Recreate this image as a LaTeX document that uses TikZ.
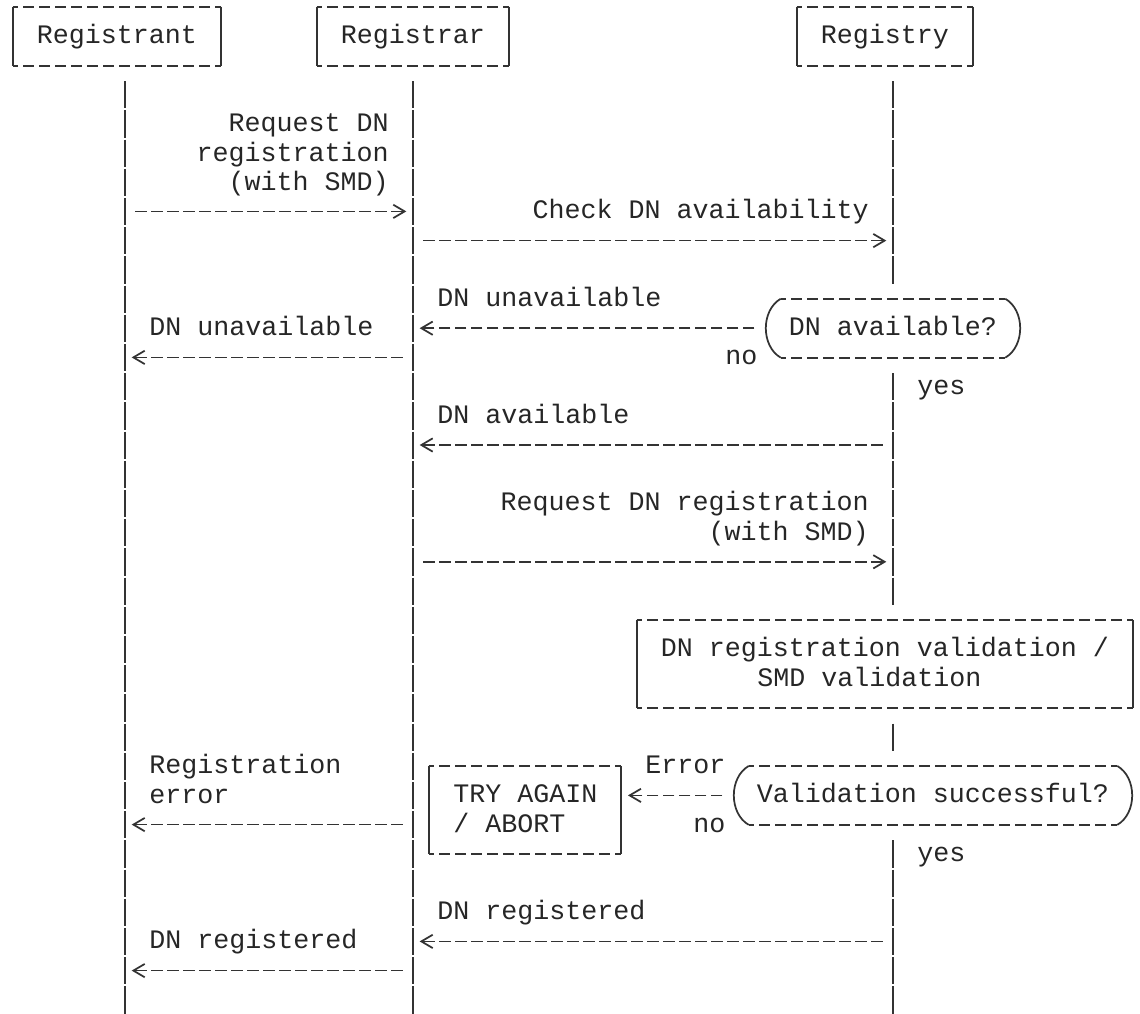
\documentclass[tikz,border=0pt]{standalone}
\usepackage{fontspec}
\newfontfamily\asciifont{Liberation Mono}
\usetikzlibrary{arrows.meta}

\tikzset{
  lbl/.style={font=\asciifont\fontsize{20}{21.9}\selectfont, text=black!85, inner sep=0pt,
              text height=16.55pt, text depth=5.35pt},
  hdash/.style={draw=black!80, line width=1.3pt, dash pattern=on 8.6pt off 3.4pt, dash phase=4.3pt},
  vside/.style={draw=black!80, line width=1.3pt, solid},
  asciibox/.style={lbl, minimum height=43.8pt, append after command={
      (\tikzlastnode.north west) edge[hdash] (\tikzlastnode.north east)
      (\tikzlastnode.south west) edge[hdash] (\tikzlastnode.south east)
      (\tikzlastnode.north west) edge[vside] (\tikzlastnode.south west)
      (\tikzlastnode.north east) edge[vside] (\tikzlastnode.south east)}},
  decision/.style={lbl, minimum height=43.8pt, append after command={
      ([xshift=12pt]\tikzlastnode.north west) edge[hdash] ([xshift=-12pt]\tikzlastnode.north east)
      ([xshift=12pt]\tikzlastnode.south west) edge[hdash] ([xshift=-12pt]\tikzlastnode.south east)
      ([xshift=12pt]\tikzlastnode.north west) edge[vside, bend right=60] ([xshift=12pt]\tikzlastnode.south west)
      ([xshift=-12pt]\tikzlastnode.north east) edge[vside, bend left=60] ([xshift=-12pt]\tikzlastnode.south east)}},
  lifeline/.style={draw=black!80, line width=1.3pt, shorten <=10.95pt, shorten >=10.95pt,
                   dash pattern=on 20.4pt off 1.5pt, dash phase=21.15pt},
  msg/.style={draw=black!80, line width=1.3pt, dash pattern=on 8.6pt off 3.4pt, dash phase=10.3pt,
              shorten <=6pt, shorten >=5pt, -{Straight Barb[length=8.5pt,width=10pt]}}
}

\begin{document}
\begin{tikzpicture}[x=12pt, y=-21.9pt]
\useasboundingbox (-0.8125,-0.2397) rectangle (70.4375,34.4863);

\foreach \r in {0,...,35} {
  \coordinate (rt-\r) at (7,\r);
  \coordinate (rr-\r) at (25,\r);
  \coordinate (ry-\r) at (55,\r);
}

\node[asciibox, minimum width=156pt] (registrant) at (6.5,1) {Registrant};
\node[asciibox, minimum width=144pt] (registrar) at (25,1) {Registrar};
\node[asciibox, minimum width=132pt] (registry) at (54.5,1) {Registry};

\node[decision, minimum width=192pt] (avail) at (55,11) {DN available?};
\node[asciibox, minimum width=372pt, minimum height=65.7pt] (validate) at (54.5,22.5) {};
\node[decision, minimum width=300pt] (validok) at (57.5,27) {Validation successful?};
\node[asciibox, minimum width=144pt, minimum height=65.7pt] (tryagain) at (32,27.5) {};

\draw[lifeline] (registrant.south -| rt-0) -- (rt-35);
\draw[lifeline] (registrar.south) -- (rr-35);
\draw[lifeline] (registry.south -| ry-0) -- (avail.north);
\draw[lifeline] (avail.south) -- (validate.north -| ry-0);
\draw[lifeline] (validate.south -| ry-0) -- (validok.north -| ry-0);
\draw[lifeline] (validok.south -| ry-0) -- (ry-35);

\node[lbl, anchor=east] (req-a) at (23.5,4) {Request DN};
\node[lbl, anchor=north east] (req-b) at (req-a.south east) {registration};
\node[lbl, anchor=north east] (req-c) at (req-b.south east) {(with SMD)};
\node[lbl, anchor=east] (check) at (53.5,7) {Check DN availability};
\node[lbl, anchor=west] (unav-rr) at (26.5,10) {DN unavailable};
\node[lbl, anchor=west] (unav-rt) at (8.5,11) {DN unavailable};
\node[lbl, anchor=west] (no-a) at (44.5,12) {no};
\node[lbl, anchor=west] (yes-a) at (56.5,13) {yes};
\node[lbl, anchor=west] (av-rr) at (26.5,14) {DN available};
\node[lbl, anchor=east] (reg-a) at (53.5,17) {Request DN registration};
\node[lbl, anchor=north east] (reg-b) at (reg-a.south east) {(with SMD)};
\node[lbl] (validate-a) at (54.5,22) {DN registration validation /};
\node[lbl, anchor=west] (validate-b) at (46.5,23) {SMD validation};
\node[lbl, anchor=west] (err-a) at (8.5,26) {Registration};
\node[lbl, anchor=north west] (err-b) at (err-a.south west) {error};
\node[lbl, anchor=west] (error) at (39.5,26) {Error};
\node[lbl, anchor=west] (try-a) at (27.5,27) {TRY AGAIN};
\node[lbl, anchor=west] (try-b) at (27.5,28) {/ ABORT};
\node[lbl, anchor=west] (no-b) at (42.5,28) {no};
\node[lbl, anchor=west] (yes-b) at (56.5,29) {yes};
\node[lbl, anchor=west] (done-rr) at (26.5,31) {DN registered};
\node[lbl, anchor=west] (done-rt) at (8.5,32) {DN registered};

\draw[msg] (rt-7) -- (rr-7);
\draw[msg] (rr-8) -- (ry-8);
\draw[msg] (avail.west) -- (rr-11);
\draw[msg] (rr-12) -- (rt-12);
\draw[msg] (ry-15) -- (rr-15);
\draw[msg] (rr-19) -- (ry-19);
\draw[msg] (validok.west) -- (tryagain.east |- validok.west);
\draw[msg] (rr-28) -- (rt-28);
\draw[msg] (ry-32) -- (rr-32);
\draw[msg] (rr-33) -- (rt-33);
\end{tikzpicture}
\end{document}
